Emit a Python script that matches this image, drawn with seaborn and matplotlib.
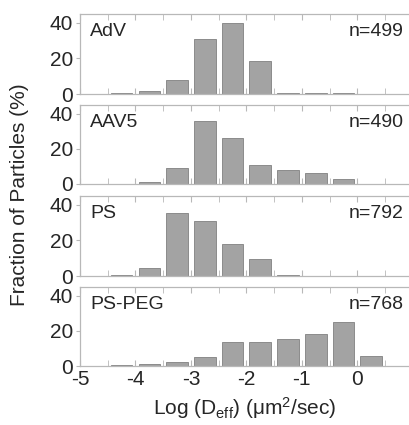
import numpy as np
import pandas as pd
import matplotlib
matplotlib.use("Agg")
import matplotlib.pyplot as plt
import seaborn as sns

# Bin centers of Log(Deff) histogram (bin width 0.5)
bin_centers = [-4.25, -3.75, -3.25, -2.75, -2.25, -1.75, -1.25, -0.75, -0.25, 0.25]
particles = ["AdV", "AAV5", "PS", "PS-PEG"]
counts = ["n=499", "n=490", "n=792", "n=768"]
adv = [0.3, 1.9, 7.9, 30.9, 40.0, 18.3, 0.6, 0.3, 0.3, 0.0]
aav5 = [0.0, 1.2, 9.1, 36.1, 26.4, 10.8, 8.1, 6.3, 3.0, 0.0]
ps = [0.4, 4.5, 35.5, 30.9, 18.1, 9.6, 0.6, 0.0, 0.0, 0.0]
ps_peg = [0.8, 1.4, 2.0, 5.3, 13.5, 13.9, 15.2, 18.4, 24.8, 5.5]
series = [adv, aav5, ps, ps_peg]
x_major = [-5, -4, -3, -2, -1, 0]
y_ticks = [0, 20, 40]

sns.set_style("white")
plt.rcParams['font.family'] = ['Liberation Sans', 'DejaVu Sans']
plt.rcParams['axes.unicode_minus'] = False
plt.rcParams['mathtext.default'] = 'regular'
plt.rcParams['mathtext.fontset'] = 'custom'
plt.rcParams['mathtext.rm'] = 'Liberation Sans'
plt.rcParams['mathtext.it'] = 'Liberation Sans'

W, H = 410, 425
fig = plt.figure(figsize=(W / 100, H / 100), dpi=100)
panel_px = [(14, 94), (105, 184), (196, 276), (287, 366)]
left = 80 / W
spine_col = "#b8b8b8"

for i, (name, n, vals) in enumerate(zip(particles, counts, series)):
    top, bot = panel_px[i]
    ax = fig.add_axes([left, 1 - bot / H, 1 - left, (bot - top) / H])
    df = pd.DataFrame({"x": bin_centers, "y": vals})
    sns.barplot(data=df, x="x", y="y", native_scale=True, width=0.78,
                color="#a3a3a3", saturation=1, edgecolor="#808080",
                linewidth=0.6, ax=ax)
    ax.set_xlim(-5, 0.95)
    ax.set_ylim(0, 45)
    ax.set_yticks(y_ticks)
    ax.set_xticks(x_major)
    ax.set_xticks(np.arange(-5, 1.0, 0.5), minor=True)
    for s in ax.spines.values():
        s.set_color(spine_col)
        s.set_linewidth(0.9)
    ax.spines['right'].set_visible(False)
    ax.tick_params(axis="y", which="major", direction="out", length=3,
                   color=spine_col, labelsize=15, pad=2, left=True)
    ax.tick_params(axis="x", which="both", direction="in", length=4,
                   color=spine_col, top=True, bottom=True, labelsize=15, pad=3)
    ax.set_xlabel("")
    ax.set_ylabel("")
    if i < 3:
        ax.tick_params(axis="x", labelbottom=False)
    ax.text(0.03, 0.78, name, transform=ax.transAxes, fontsize=14,
            ha="left", va="center")
    ax.text(0.98, 0.78, n, transform=ax.transAxes, fontsize=14,
            ha="right", va="center")
    if i == 3:
        ax.set_xlabel(r"Log (D$_{eff}$) ($\mu$m$^2$/sec)", fontsize=15, labelpad=4)

fig.text(20 / W, 1 - 195 / H, "Fraction of Particles (%)", rotation=90,
         fontsize=15, ha="center", va="center")

fig.savefig("out.png", dpi=100)
